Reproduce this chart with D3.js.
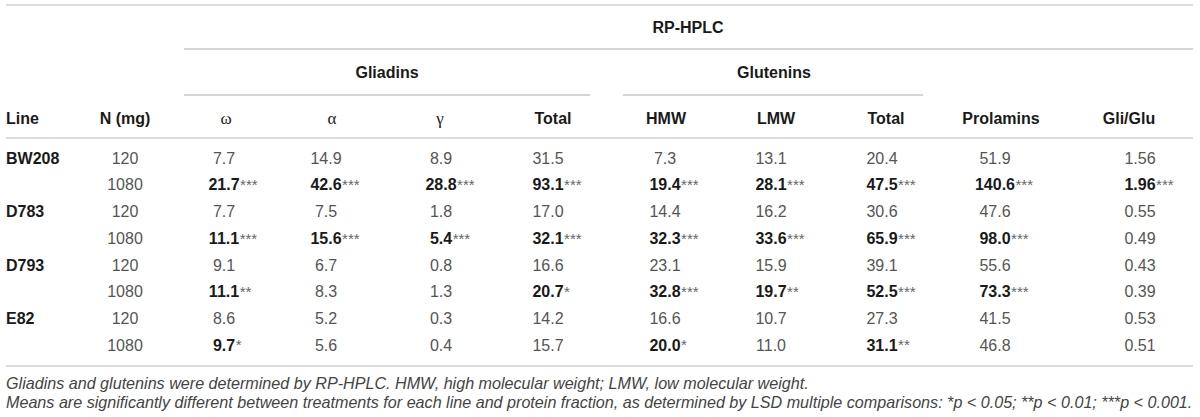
<!DOCTYPE html>
<html>
<head>
<meta charset="utf-8">
<script src="https://cdn.jsdelivr.net/npm/d3@7/dist/d3.min.js"></script>
<style>
  html, body { margin: 0; padding: 0; background: #fff; }
  svg { display: block; }
</style>
</head>
<body>
<svg id="chart" width="1200" height="417"></svg>
<script>
// ---------------- DATA ----------------
const lineNames = ["BW208", "D783", "D793", "E82"];
const nLevels = ["120", "1080"];
const groupTop = "RP-HPLC";
const groupSub = ["Gliadins", "Glutenins"];
const colKeys = ["omega", "alpha", "gamma", "gliTotal", "hmw", "lmw", "gluTotal", "prolamins", "gliGlu"];
const colLabels = ["ω", "α", "γ", "Total", "HMW", "LMW", "Total", "Prolamins", "Gli/Glu"];

const omega     = [7.7, 21.7, 7.7, 11.1, 9.1, 11.1, 8.6, 9.7];
const omegaSig  = ["", "***", "", "***", "", "**", "", "*"];
const alpha     = [14.9, 42.6, 7.5, 15.6, 6.7, 8.3, 5.2, 5.6];
const alphaSig  = ["", "***", "", "***", "", "", "", ""];
const gamma     = [8.9, 28.8, 1.8, 5.4, 0.8, 1.3, 0.3, 0.4];
const gammaSig  = ["", "***", "", "***", "", "", "", ""];
const gliTotal    = [31.5, 93.1, 17.0, 32.1, 16.6, 20.7, 14.2, 15.7];
const gliTotalSig = ["", "***", "", "***", "", "*", "", ""];
const hmw     = [7.3, 19.4, 14.4, 32.3, 23.1, 32.8, 16.6, 20.0];
const hmwSig  = ["", "***", "", "***", "", "***", "", "*"];
const lmw     = [13.1, 28.1, 16.2, 33.6, 15.9, 19.7, 10.7, 11.0];
const lmwSig  = ["", "***", "", "***", "", "**", "", ""];
const gluTotal    = [20.4, 47.5, 30.6, 65.9, 39.1, 52.5, 27.3, 31.1];
const gluTotalSig = ["", "***", "", "***", "", "***", "", "**"];
const prolamins    = [51.9, 140.6, 47.6, 98.0, 55.6, 73.3, 41.5, 46.8];
const prolaminsSig = ["", "***", "", "***", "", "***", "", ""];
const gliGlu    = [1.56, 1.96, 0.55, 0.49, 0.43, 0.39, 0.53, 0.51];
const gliGluSig = ["", "***", "", "", "", "", "", ""];

const footnotes = [
  "Gliadins and glutenins were determined by RP-HPLC. HMW, high molecular weight; LMW, low molecular weight.",
  "Means are significantly different between treatments for each line and protein fraction, as determined by LSD multiple comparisons: *p < 0.05; **p < 0.01; ***p < 0.001."
];

// ---------------- BUILD TABLE ----------------
const values = { omega, alpha, gamma, gliTotal, hmw, lmw, gluTotal, prolamins, gliGlu };
const sigs = { omega: omegaSig, alpha: alphaSig, gamma: gammaSig, gliTotal: gliTotalSig,
  hmw: hmwSig, lmw: lmwSig, gluTotal: gluTotalSig, prolamins: prolaminsSig, gliGlu: gliGluSig };
const decimals = { gliGlu: 2 };

const rows = [];
lineNames.forEach((ln, i) => nLevels.forEach((n, j) => rows.push({ idx: i * nLevels.length + j, line: j === 0 ? ln : "", n })));

const FONT = "'Liberation Sans', Arial, Helvetica, sans-serif";
const svg = d3.select("#chart");

// scales
const y = d3.scalePoint().domain(d3.range(rows.length)).range([158, 345]);
const xData = d3.scaleOrdinal().domain(colKeys).range([224, 326, 441, 548, 665, 771, 882, 995, 1140]);
const xHead = d3.scaleOrdinal().domain(colKeys).range([226, 332, 440, 553, 666, 776, 886, 1001, 1129]);
const xN = 125, xLine = 6;

// rules
const rule = (x1, x2, yy, color, w) => svg.append("line")
  .attr("x1", x1).attr("x2", x2).attr("y1", yy).attr("y2", yy)
  .attr("stroke", color).attr("stroke-width", w);
rule(6, 1193, 5, "#dcdcdc", 2);
rule(184, 1193, 49, "#a9a9a9", 1);
rule(184, 590, 95, "#a9a9a9", 1);
rule(623, 923, 95, "#a9a9a9", 1);
rule(6, 1193, 138, "#dcdcdc", 2);
rule(6, 1193, 366, "#dcdcdc", 2);

// header text
const headText = (x, yy, t, anchor, opts = {}) => svg.append("text")
  .attr("x", x).attr("y", yy).attr("dy", "0.36em")
  .attr("text-anchor", anchor)
  .attr("font-family", opts.family || FONT)
  .attr("font-size", opts.size || 16)
  .attr("font-weight", opts.weight || "bold")
  .attr("fill", opts.fill || "#1a1a1a")
  .text(t);

headText(688, 27, groupTop, "middle");
headText(387, 72, groupSub[0], "middle");
headText(774, 72, groupSub[1], "middle");
headText(xLine, 118, "Line", "start");
headText(xN, 118, "N (mg)", "middle");
colKeys.forEach((k, i) => {
  const greek = i < 3;
  headText(xHead(k), 118, colLabels[i], "middle",
    greek ? { family: "'Liberation Serif', 'Times New Roman', serif", weight: "normal", size: 17, fill: "#222" } : {});
});

// body
const body = svg.append("g");
rows.forEach(r => {
  const yy = y(r.idx);
  if (r.line) body.append("text").attr("x", xLine).attr("y", yy).attr("dy", "0.36em")
    .attr("font-family", FONT).attr("font-size", 16).attr("font-weight", "bold").attr("fill", "#1a1a1a")
    .text(r.line);
  body.append("text").attr("x", xN).attr("y", yy).attr("dy", "0.36em").attr("text-anchor", "middle")
    .attr("font-family", FONT).attr("font-size", 16).attr("fill", "#555").text(r.n);

  colKeys.forEach(k => {
    const v = values[k][r.idx];
    const s = sigs[k][r.idx];
    const str = v.toFixed(decimals[k] || 1);
    const t = body.append("text").attr("x", xData(k)).attr("y", yy).attr("dy", "0.36em")
      .attr("text-anchor", "middle").attr("font-family", FONT).attr("font-size", 16)
      .attr("font-weight", s ? "bold" : "normal").attr("fill", s ? "#1a1a1a" : "#555")
      .text(str);
    if (s) {
      const w = t.node().getComputedTextLength();
      body.append("text").attr("x", xData(k) + w / 2 + 0.5).attr("y", yy).attr("dy", "0.36em")
        .attr("font-family", FONT).attr("font-size", 15).attr("fill", "#666").text(s);
    }
  });
});

// footnotes
const fn = svg.append("g");
const f2 = fn.append("text").attr("x", 6).attr("y", 402).attr("dy", "0.36em")
  .attr("font-family", FONT).attr("font-style", "italic").attr("font-size", 15).attr("fill", "#444")
  .text(footnotes[1]);
const fs = 15 * 1187 / f2.node().getComputedTextLength();
f2.attr("font-size", fs);
fn.append("text").attr("x", 6).attr("y", 383).attr("dy", "0.36em")
  .attr("font-family", FONT).attr("font-style", "italic").attr("font-size", fs).attr("fill", "#444")
  .text(footnotes[0]);
</script>
</body>
</html>
